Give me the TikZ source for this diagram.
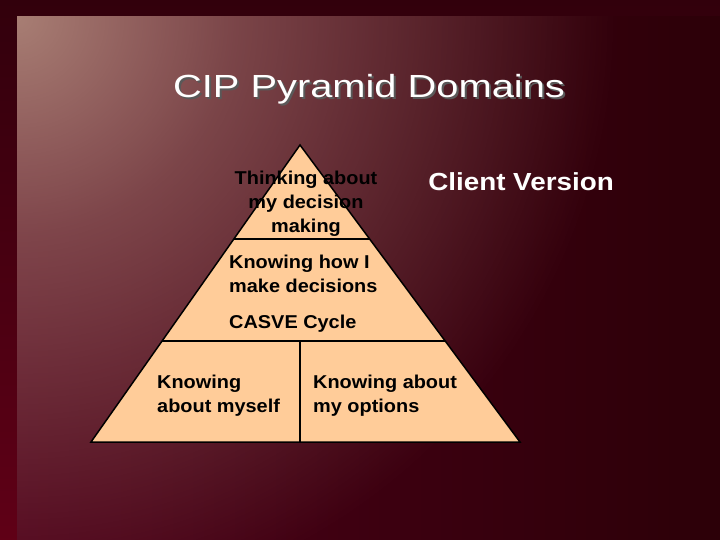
\documentclass[tikz,border=0pt]{standalone}
\usepackage{fontspec}
\setmainfont{Liberation Sans}
\usetikzlibrary{calc,fadings}

\definecolor{maroondark}{HTML}{32000C}
\definecolor{maroonleft}{HTML}{4E0019}
\definecolor{maroonright}{HTML}{2C0008}
\definecolor{glow}{HTML}{A87E74}
\definecolor{peach}{HTML}{FFCC99}

% radial mask: opaque in the corner, gone well before the middle
\pgfdeclareradialshading{glowmask}{\pgfpointorigin}{color(0bp)=(white); color(9bp)=(white!55!black); color(25bp)=(black); color(50bp)=(black)}
\pgfdeclarefading{glowfade}{\pgfuseshading{glowmask}}

\begin{document}
\begin{tikzpicture}[x=1pt,y=-1pt,
    tierText/.style={font=\bfseries\fontsize{18.6}{24}\selectfont, xscale=1.07, inner sep=0pt, text=black},
    rule/.style={line width=1.5pt, draw=black},
  ]
  \useasboundingbox (0,0) rectangle (720,540);
  % background
  \shade[top color=maroondark, bottom color=maroonleft!90!red] (0,0) rectangle (720,540);
  \shade[left color=maroonleft, right color=maroonright] (17,17) rectangle (720,540);
  \begin{scope}
    \clip (17,17) rectangle (720,540);
    \fill[glow, path fading=glowfade] (17,17) circle (600);
  \end{scope}

  % title with shadow
  \node[font=\fontsize{32}{38}\selectfont, xscale=1.245, anchor=base, text=black!65, inner sep=0pt] (titleshadow) at (371,100) {CIP Pyramid Domains};
  \node[font=\fontsize{32}{38}\selectfont, xscale=1.245, anchor=base, text=white, inner sep=0pt] (title) at (369,98) {CIP Pyramid Domains};
  \node[font=\bfseries\fontsize{24.7}{30}\selectfont, xscale=1.126, anchor=base, text=white, inner sep=0pt] (version) at (521,191) {Client Version};

  % pyramid
  \coordinate (apex) at (300,145);
  \coordinate (baseL) at (91,442);
  \coordinate (baseR) at (520,442);
  \path (apex) -- (baseL) coordinate[pos=0.3165] (upperL) coordinate[pos=0.66] (lowerL);
  \path (apex) -- (baseR) coordinate[pos=0.3165] (upperR) coordinate[pos=0.66] (lowerR);
  \filldraw[rule, fill=peach, line join=miter] (apex) -- (baseL) -- (baseR) -- cycle;
  \draw[rule] (upperL) -- (upperR);
  \draw[rule] (lowerL) -- (lowerR);
  \draw[rule] (apex |- lowerL) -- (apex |- baseL);

  % tier labels (base = last line)
  \node[tierText, align=center, anchor=base] (thinking) at (306,233) {Thinking about\\my decision\\making};
  \node[tierText, align=left, anchor=base west] (howi) at (229,292) {Knowing how I\\make decisions};
  \node[tierText, anchor=base west] (casve) at (229,328) {CASVE Cycle};
  \node[tierText, align=left, anchor=base west] (myself) at (157,412) {Knowing\\about myself};
  \node[tierText, align=left, anchor=base west] (options) at (313,412) {Knowing about\\my options};
\end{tikzpicture}
\end{document}
